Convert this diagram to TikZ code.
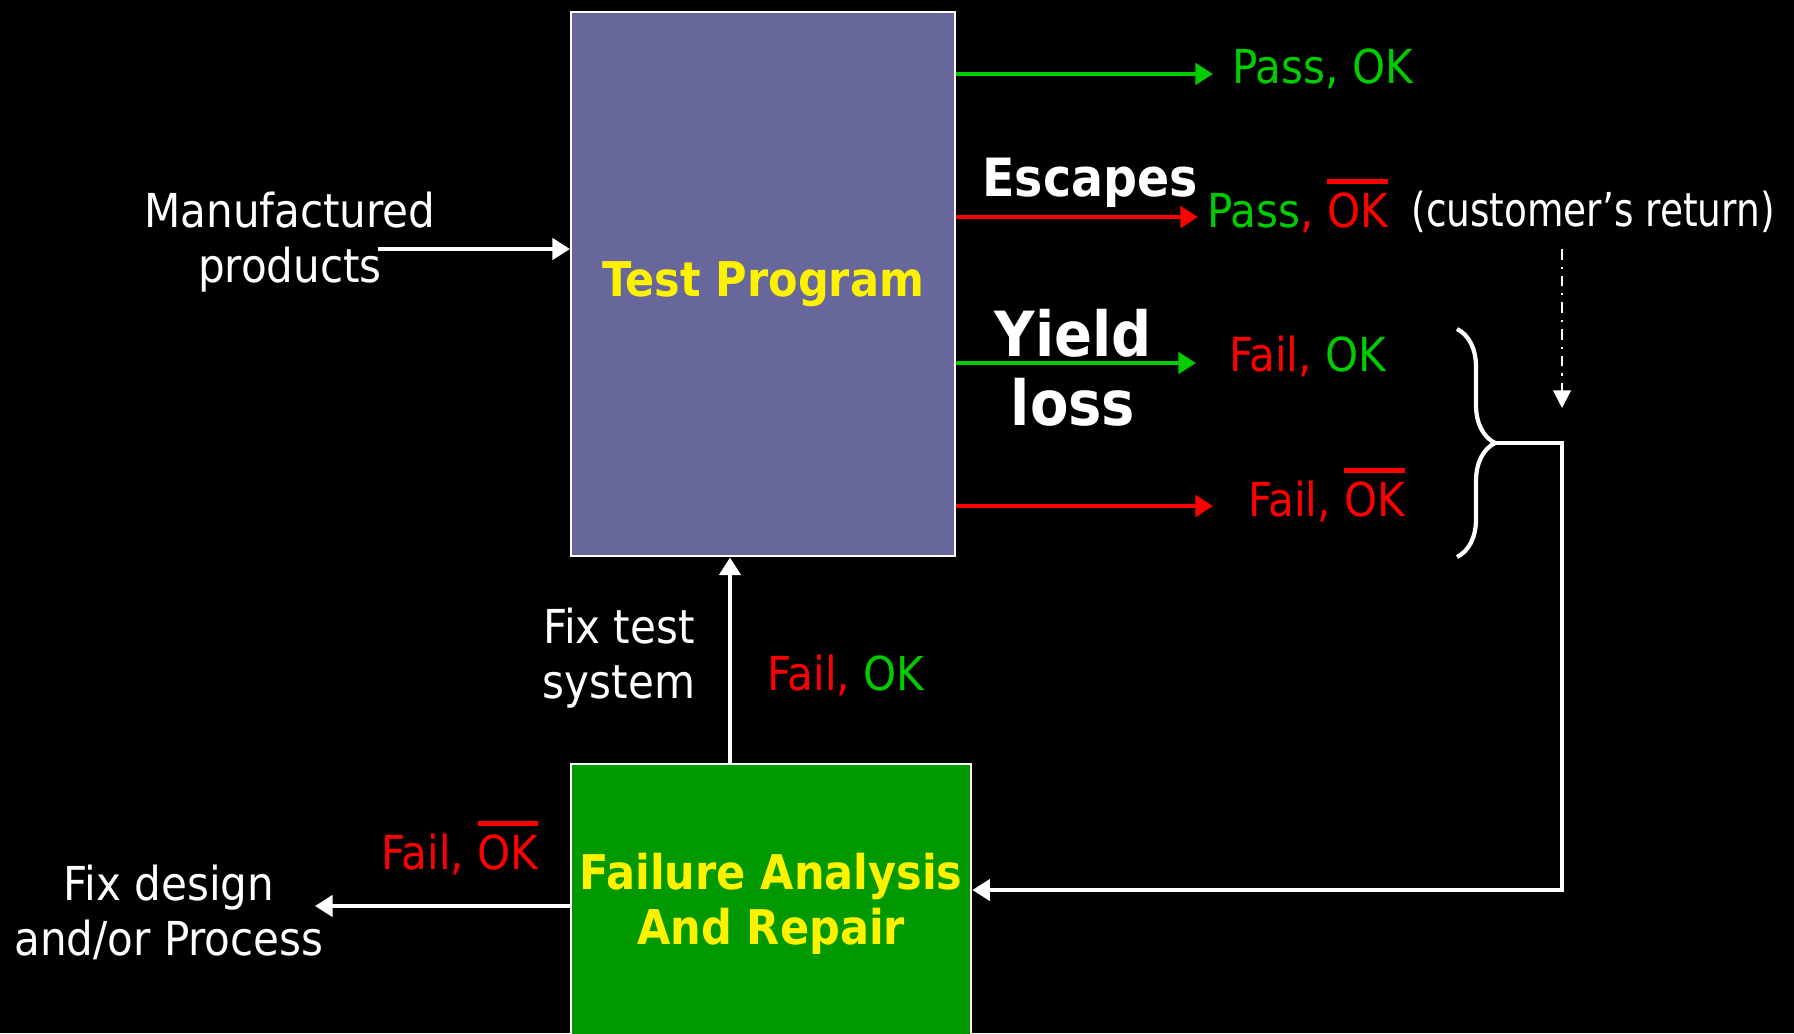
\documentclass[tikz,border=0pt]{standalone}
\usepackage{fontspec}
\setmainfont{DejaVu Sans Condensed}
\usetikzlibrary{arrows.meta,decorations.pathreplacing}
\definecolor{tpblue}{HTML}{67679B}
\definecolor{fagreen}{HTML}{009900}
\definecolor{okgreen}{HTML}{00CC00}
\definecolor{badred}{HTML}{FF0000}
\newcommand{\nOK}{\leavevmode\vbox{\hrule height 1.3pt\kern 2.6pt\hbox{OK}}}

\begin{document}
\begin{tikzpicture}[x=0.01cm,y=-0.01cm,
  every node/.style={font=\fontsize{13.3}{15.6}\selectfont, text=white, align=center},
  bigbox/.style={draw=white, line width=.6pt, anchor=north west, inner sep=0pt, font=\fontsize{13.6}{15.6}\selectfont\bfseries, text=yellow},
  tip/.style={-{Triangle[length=5pt,width=6pt]}},
  warrow/.style={tip, draw=white, line width=1.1pt},
  garrow/.style={tip, draw=okgreen, line width=1.4pt},
  rarrow/.style={tip, draw=badred, line width=1.4pt}]
\useasboundingbox (0,0) rectangle (1794,1033);
\fill[black] (0,0) rectangle (1794,1033);
\node[bigbox, fill=tpblue, minimum width=3.84cm, minimum height=5.44cm] (tp) at (570,11) {Test Program};
\node[bigbox, fill=fagreen, minimum width=4cm, minimum height=2.8cm] (fa) at (570,763) {Failure Analysis\\And Repair};
\node (manuf) at (290,242) {Manufactured\\products};
\node[anchor=west] (passok) at (1220,69) {\color{okgreen}Pass, OK};
\node[anchor=west] (escok) at (1195,206) {\color{okgreen}Pass\color{badred}, \nOK};
\node[anchor=east] (custret) at (1787,212) {\scalebox{0.89}[1]{(customer’s return)}};
\node[anchor=west] (failok) at (1217,356) {\color{badred}Fail, \color{okgreen}OK};
\node[anchor=west] (failnok) at (1236,495) {\color{badred}Fail, \nOK};
\node[font=\fontsize{15}{16}\selectfont\bfseries] (escapes) at (1090,183) {Escapes};
\node[font=\fontsize{17.7}{19.5}\selectfont\bfseries] (yield) at (1073,368) {Yield\\loss};
\node (fixtest) at (619,658) {Fix test\\system};
\node (midfail) at (846,675) {\color{badred}Fail, \color{okgreen}OK};
\node (lowfail) at (460,848) {\color{badred}Fail, \nOK};
\node (fixdes) at (169,912) {Fix design\\and/or Process};
\coordinate (mstart) at (378,249);
\coordinate (up) at (730,0);
\coordinate (fd) at (315,906);
\coordinate (e1) at (1213,74);
\coordinate (e2) at (1198,217);
\coordinate (e3) at (1196,363);
\coordinate (e4) at (1213,506);
\coordinate (brtop) at (1457,329);
\coordinate (brbot) at (1457,557);
\coordinate (brtip) at (1495,443);
\coordinate (ret) at (1562,890);
\coordinate (dtop) at (1562,249);
\coordinate (dbot) at (1562,408);
\draw[warrow] (mstart) -- (tp.west |- mstart);
\draw[garrow] (tp.east |- e1) -- (e1);
\draw[rarrow] (tp.east |- e2) -- (e2);
\draw[garrow] (tp.east |- e3) -- (e3);
\draw[rarrow] (tp.east |- e4) -- (e4);
\draw[white, line width=1.2pt, decorate, decoration={brace, amplitude=0.38cm}] (brtop) -- (brbot);
\draw[warrow] (brtip) -| (ret) -- (fa.east |- ret);
\draw[white, line width=.6pt, dash dot, -{Triangle[length=5pt,width=5pt]}] (dtop) -- (dbot);
\draw[warrow] (fa.north -| up) -- (tp.south -| up);
\draw[warrow] (fa.west |- fd) -- (fd);
\end{tikzpicture}
\end{document}
